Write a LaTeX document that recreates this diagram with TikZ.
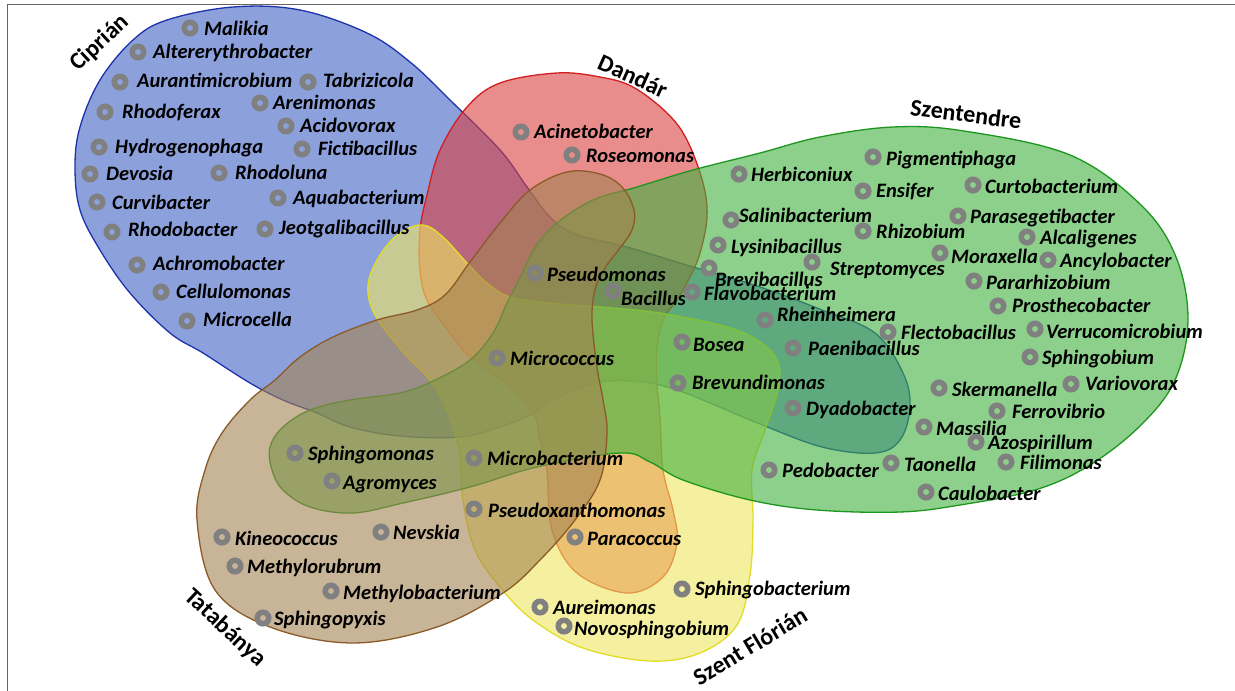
\documentclass[tikz,border=0pt]{standalone}
\usepackage{fontspec}
\setmainfont{Carlito}
\definecolor{cBlue}{RGB}{63,97,197}
\definecolor{oBlue}{RGB}{30,50,170}
\definecolor{cRed}{RGB}{217,63,63}
\definecolor{oRed}{RGB}{210,30,30}
\definecolor{cYellow}{RGB}{238,230,97}
\definecolor{oYellow}{RGB}{225,220,40}
\definecolor{cGreen}{RGB}{63,177,63}
\definecolor{oGreen}{RGB}{30,150,30}
\definecolor{cBrown}{RGB}{163,130,80}
\definecolor{oBrown}{RGB}{140,90,40}
\definecolor{dotgray}{RGB}{128,128,128}
\definecolor{framegray}{RGB}{100,100,100}
\tikzset{
  venn/.style={fill opacity=0.6, line width=1.3pt},
  dotmark/.style={circle, draw=dotgray, line width=5.5pt, minimum size=11.5pt, inner sep=0pt},
  sp/.style={anchor=base west, inner sep=0pt, font=\fontsize{20.5}{24}\selectfont\bfseries\itshape},
  setlbl/.style={font=\fontsize{24}{28}\selectfont\bfseries, inner sep=0pt}
}
\begin{document}
\begin{tikzpicture}[x=1pt,y=-1pt]
\useasboundingbox (0,0) rectangle (1235,691);
\draw[framegray, line width=1pt] (7,691) -- (7,4) -- (1235,4);
% Ciprian (blue)
\path[venn, fill=cBlue, draw=oBlue] plot[smooth cycle, tension=0.6] coordinates {
(75,167) (80,127) (100,80) (133,40) (167,20) (233,7) (300,10) (367,33) (410,62) (450,100) (500,150) (527,187) (550,217) (575,234) (627,247) (693,267) (760,287) (822,310) (875,333) (903,373) (910,407) (900,440) (875,453) (822,447) (760,424) (710,403) (677,390) (643,382) (600,382) (560,397) (530,415) (500,427) (460,437) (400,436) (350,427) (317,413) (283,400) (250,383) (203,353) (170,333) (130,293) (100,250) (80,210)};
% Dandar (red)
\path[venn, fill=cRed, draw=oRed] plot[smooth cycle, tension=0.6] coordinates {
(557,73) (600,77) (633,87) (667,113) (687,140) (703,183) (707,217) (700,253) (690,277) (677,300) (663,320) (657,350) (657,383) (660,417) (663,470) (673,510) (677,543) (663,577) (627,593) (577,573) (552,530) (547,470) (540,440) (533,413) (510,387) (470,357) (450,333) (427,300) (420,270) (420,230) (427,195) (440,150) (467,107) (500,83)};
% Szent Florian (yellow)
\path[venn, fill=cYellow, draw=oYellow] plot[smooth cycle, tension=0.6] coordinates {
(423,225) (443,237) (467,263) (487,283) (510,297) (550,303) (600,307) (660,313) (727,327) (760,342) (778,362) (778,390) (765,430) (752,470) (753,520) (750,575) (737,625) (700,653) (650,661) (583,648) (533,620) (500,587) (475,550) (463,500) (458,445) (437,390) (403,352) (375,315) (368,285) (380,255) (400,233)};
% Szentendre (green)
\path[venn, fill=cGreen, draw=oGreen] plot[smooth cycle, tension=0.6] coordinates {
(270,447) (283,427) (310,410) (350,400) (400,393) (433,381) (470,360) (493,333) (507,303) (520,278) (535,248) (557,223) (593,200) (637,187) (693,170) (760,153) (820,137) (893,127) (964,131) (1070,155) (1141,205) (1176,257) (1188,320) (1175,380) (1141,425) (1090,465) (1035,490) (960,505) (900,512) (817,510) (750,500) (683,480) (650,462) (620,453) (537,467) (470,487) (403,503) (353,513) (310,507) (283,490) (272,470)};
% Tatabanya (brown)
\path[venn, fill=cBrown, draw=oBrown] plot[smooth cycle, tension=0.6] coordinates {
(567,172) (600,174) (622,187) (634,210) (632,230) (620,248) (605,268) (595,290) (592,320) (597,367) (603,400) (607,433) (600,480) (575,520) (540,560) (503,593) (437,627) (353,643) (270,627) (215,590) (197,520) (205,470) (222,433) (250,400) (275,380) (300,357) (333,337) (377,320) (417,310) (445,295) (470,262) (500,223) (530,190)};
% species
\foreach \dx/\dy/\tx/\ty/\nm in {
190/28/204/28/Malikia,
138/52/153/51/Altererythrobacter,
120/82/137/80/Aurantimicrobium,
308/82/323/80/Tabrizicola,
105/112/122/111/Rhodoferax,
260/103/273/102/Arenimonas,
286/126/300/125/Acidovorax,
99/147/115/146/Hydrogenophaga,
302/149/318/148/Fictibacillus,
90/174/106/173/Devosia,
219/173/235/172/Rhodoluna,
97/202/112/202/Curvibacter,
278/198/293/197/Aquabacterium,
112/232/128/229/Rhodobacter,
265/229/279/227/Jeotgalibacillus,
137/265/153/263/Achromobacter,
161/292/176/291/Cellulomonas,
187/321/203/319/Microcella,
521/132/534/131/Acinetobacter,
572/155/586/155/Roseomonas,
535/273/547/274/Pseudomonas,
613/291/621/298/Bacillus,
497/358/510/358/Micrococcus,
739/174/751/174/Herbiconiux,
731/220/739/215/Salinibacterium,
718/245/731/246/Lysinibacillus,
709/268/715/279/Brevibacillus,
692/292/704/293/Flavobacterium,
765/320/777/314/Rheinheimera,
682/342/693/344/Bosea,
678/383/692/382/Brevundimonas,
793/348/808/348/Paenibacillus,
793/408/806/408/Dyadobacter,
769/470/782/470/Pedobacter,
891/463/904/464/Taonella,
926/492/938/493/Caulobacter,
924/427/936/428/Massilia,
976/442/988/442/Azospirillum,
1006/462/1020/462/Filimonas,
997/411/1012/411/Ferrovibrio,
939/388/952/389/Skermanella,
1071/384/1085/383/Variovorax,
1030/357/1042/357/Sphingobium,
1035/329/1046/331/Verrucomicrobium,
888/332/901/332/Flectobacillus,
998/306/1012/305/Prosthecobacter,
974/281/986/282/Pararhizobium,
1048/260/1060/260/Ancylobacter,
940/253/951/256/Moraxella,
1027/237/1040/237/Alcaligenes,
958/216/970/216/Parasegetibacter,
863/231/876/231/Rhizobium,
812/262/830/268/Streptomyces,
973/185/985/186/Curtobacterium,
863/191/876/190/Ensifer,
873/157/886/158/Pigmentiphaga,
295/453/308/453/Sphingomonas,
332/481/343/482/Agromyces,
474/458/487/458/Microbacterium,
474/509/488/510/Pseudoxanthomonas,
222/537/235/538/Kineococcus,
381/532/393/532/Nevskia,
235/566/247/566/Methylorubrum,
331/591/343/592/Methylobacterium,
263/618/274/618/Sphingopyxis,
575/537/587/538/Paracoccus,
682/589/695/588/Sphingobacterium,
540/607/553/607/Aureimonas,
564/626/574/628/Novosphingobium}{
  \node[dotmark] (d\nm) at (\dx,\dy) {};
  \node[sp] (t\nm) at (\tx,\ty+7) {\nm};
}
% set labels
\node[setlbl, rotate=43] (Ciprian) at (100,43) {Ciprián};
\node[setlbl, rotate=-24] (Dandar) at (633,76) {Dandár};
\node[setlbl, rotate=-7] (Szentendre) at (966,114) {Szentendre};
\node[setlbl, rotate=-43] (Tatabanya) at (225,628) {Tatabánya};
\node[setlbl, rotate=31] (SzentFlorian) at (750,646) {Szent Flórián};
\end{tikzpicture}
\end{document}
